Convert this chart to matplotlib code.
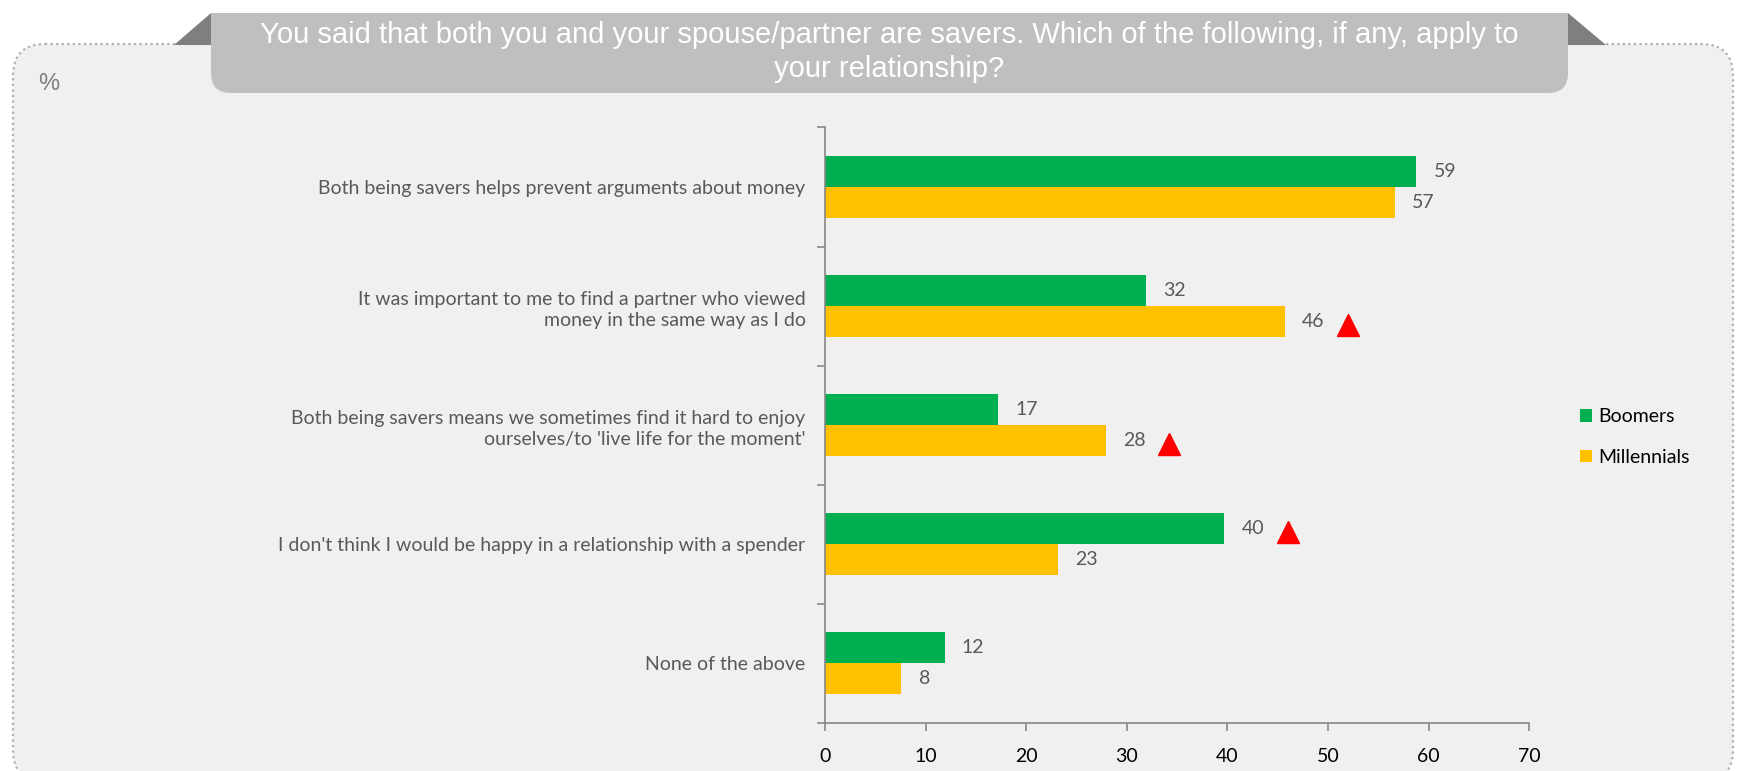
import matplotlib.pyplot as plt
from matplotlib.patches import FancyBboxPatch, Rectangle, Polygon

categories = [
    'Both being savers helps prevent arguments about money',
    'It was important to me to find a partner who viewed\nmoney in the same way as I do',
    "Both being savers means we sometimes find it hard to enjoy\nourselves/to 'live life for the moment'",
    "I don't think I would be happy in a relationship with a spender",
    'None of the above',
]
boomers = [58.8, 31.9, 17.2, 39.7, 11.9]
millennials = [56.7, 45.7, 27.9, 23.2, 7.6]
boomers_flag = [False, False, False, True, False]
millennials_flag = [False, True, True, False, False]
series_names = ['Boomers', 'Millennials']
xticks = [0, 10, 20, 30, 40, 50, 60, 70]

title = ('You said that both you and your spouse/partner are savers. Which of the following, if any, apply to\n'
         'your relationship?')

W, H = 1739, 771
fig = plt.figure(figsize=(W / 100, H / 100), dpi=100)
fig.patch.set_facecolor('white')

# background decoration in pixel coords
bg = fig.add_axes([0, 0, 1, 1], zorder=0)
bg.set_xlim(0, W)
bg.set_ylim(H, 0)
bg.axis('off')
panel = FancyBboxPatch((13, 44), 1720, 738, boxstyle='round,pad=0,rounding_size=32',
                       facecolor='#F0F0F0', edgecolor='#B0B0B0', linestyle=(0, (1, 1.5)), lw=1.6)
bg.add_patch(panel)
banner = FancyBboxPatch((211, 13), 1357, 80, boxstyle='round,pad=0,rounding_size=20',
                        facecolor='#BFBFBF', edgecolor='none')
bg.add_patch(banner)
bg.add_patch(Rectangle((211, 13), 1357, 30, facecolor='#BFBFBF', edgecolor='none'))
bg.add_patch(Polygon([(174, 45), (211, 13), (211, 45)], facecolor='#7F7F7F', edgecolor='none'))
bg.add_patch(Polygon([(1568, 13), (1606, 45), (1568, 45)], facecolor='#7F7F7F', edgecolor='none'))
bg.text(889, 52, title, ha='center', va='center', color='white', fontsize=21,
        family='Liberation Sans', linespacing=1.3)
bg.text(38, 84, '%', ha='left', va='center', color='#7F7F7F', fontsize=17, family='Liberation Sans')

ax = fig.add_axes([0.4744, 0.0623, 0.4049, 0.7724], zorder=1)
ax.patch.set_alpha(0)

pos = list(range(len(categories)))
h = 0.26
b1 = ax.barh([p - h / 2 for p in pos], boomers, height=h, color='#00B050', label=series_names[0])
b2 = ax.barh([p + h / 2 for p in pos], millennials, height=h, color='#FFC000', label=series_names[1])

lab = dict(color='#595959', fontsize=14, family='Lato', va='center')
for p, v, f in zip(pos, boomers, boomers_flag):
    ax.text(v + 1.7, p - h / 2, f'{v:.0f}', **lab)
    if f:
        ax.plot(v + 6.3, p - h / 2 + 0.03, marker='^', color='#FF0000', markersize=16, linestyle='none')
for p, v, f in zip(pos, millennials, millennials_flag):
    ax.text(v + 1.7, p + h / 2, f'{v:.0f}', **lab)
    if f:
        ax.plot(v + 6.3, p + h / 2 + 0.03, marker='^', color='#FF0000', markersize=16, linestyle='none')

ax.set_xlim(0, 70)
ax.set_ylim(len(categories) - 0.5, -0.5)
ax.set_xticks(xticks)
ax.set_yticks(pos)
ax.set_yticklabels(categories, fontsize=14, family='Lato', color='#595959', linespacing=1.3)
ax.set_yticks([p - 0.5 for p in pos] + [len(categories) - 0.5], minor=True)
ax.tick_params(axis='y', which='major', length=0, pad=14)
ax.tick_params(axis='y', which='minor', length=6, color='#888888', width=1.2)
ax.tick_params(axis='x', length=6, color='#888888', width=1.2, labelsize=14, labelcolor='black', pad=12)
for t in ax.get_xticklabels():
    t.set_family('Lato')
for s in ['top', 'right']:
    ax.spines[s].set_visible(False)
for s in ['left', 'bottom']:
    ax.spines[s].set_color('#888888')
    ax.spines[s].set_linewidth(1.2)

ax.legend(handles=[b1, b2], loc='center left', bbox_to_anchor=(1580 / W, 1 - 437 / H),
          bbox_transform=fig.transFigure, frameon=False, prop={'family': 'Lato', 'size': 14},
          handlelength=0.6, handleheight=0.6, handletextpad=0.35, labelspacing=1.2, borderaxespad=0,
          borderpad=0)

fig.savefig('out.png', dpi=100)
